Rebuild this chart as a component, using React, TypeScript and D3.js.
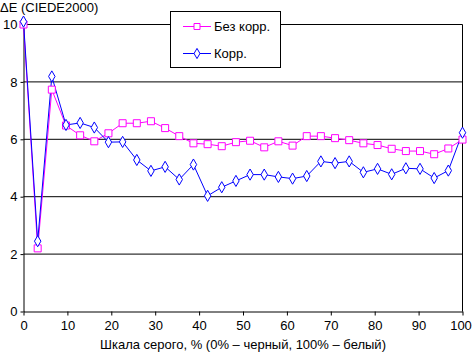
import { useEffect, useRef } from 'react';
import * as d3 from 'd3';

const xValues = [
  0, 3.23, 6.45, 9.68, 12.9, 16.13, 19.35, 22.58, 25.81, 29.03, 32.26, 35.48, 38.71, 41.94, 45.16, 48.39,
  51.61, 54.84, 58.06, 61.29, 64.52, 67.74, 70.97, 74.19, 77.42, 80.65, 83.87, 87.1, 90.32, 93.55, 96.77, 100,
];
const withoutCorr = [
  10.0, 2.2, 7.73, 6.48, 6.14, 5.93, 6.21, 6.56, 6.56, 6.63, 6.39, 6.11, 5.86, 5.83, 5.76, 5.9,
  5.95, 5.72, 5.93, 5.78, 6.11, 6.11, 6.04, 5.97, 5.86, 5.8, 5.67, 5.59, 5.59, 5.48, 5.68, 5.99,
];
const withCorr = [
  10.1, 2.45, 8.19, 6.5, 6.57, 6.41, 5.9, 5.91, 5.28, 4.9, 5.04, 4.6, 5.12, 4.03, 4.33, 4.55,
  4.77, 4.77, 4.69, 4.63, 4.72, 5.23, 5.17, 5.23, 4.85, 4.97, 4.78, 4.99, 4.97, 4.65, 4.91, 6.23,
];
const xTicks = [0, 10, 20, 30, 40, 50, 60, 70, 80, 90, 100];
const yTicks = [0, 2, 4, 6, 8, 10];
const seriesNames = ['Без корр.', 'Корр.'];

const W = 472;
const H = 353;
const FONT = '"Liberation Sans", Arial, sans-serif';
const FS = 13;

function drawChart(el: SVGSVGElement) {
  const svg = d3.select(el);
  svg.selectAll('*').remove();

  const x = d3.scaleLinear().domain([0, 100]).range([23.5, 462.5]);
  const y = d3.scaleLinear().domain([0, 10]).range([311.5, 24.5]);

  // gridlines
  svg
    .append('g')
    .selectAll('line')
    .data(yTicks.filter((t) => t > 0))
    .join('line')
    .attr('x1', x(0))
    .attr('x2', x(100))
    .attr('y1', (d: number) => y(d))
    .attr('y2', (d: number) => y(d))
    .attr('stroke', '#000')
    .attr('stroke-width', 1);

  // right border
  svg
    .append('line')
    .attr('x1', x(100))
    .attr('x2', x(100))
    .attr('y1', y(10))
    .attr('y2', y(0))
    .attr('stroke', '#000');

  const xAxis = svg
    .append('g')
    .attr('transform', `translate(0,${y(0)})`)
    .call(d3.axisBottom(x).tickValues(xTicks).tickSize(4).tickSizeOuter(0));
  xAxis.select('.domain').attr('stroke', '#000');
  xAxis.selectAll('line').attr('stroke', '#000');
  xAxis
    .selectAll('text')
    .attr('font-family', FONT)
    .attr('font-size', FS)
    .attr('fill', '#000')
    .attr('dy', '0.85em')
    .attr('dx', (d: number) => (d === 100 ? -2 : 0));

  const yAxis = svg
    .append('g')
    .attr('transform', `translate(${x(0)},0)`)
    .call(d3.axisLeft(y).tickValues(yTicks).tickSize(3).tickSizeOuter(0));
  yAxis.select('.domain').attr('stroke', '#000');
  yAxis.selectAll('line').attr('stroke', '#000');
  yAxis
    .selectAll('text')
    .attr('font-family', FONT)
    .attr('font-size', FS)
    .attr('fill', '#000')
    .attr('x', -6);

  svg
    .append('text')
    .attr('x', 0)
    .attr('y', 12)
    .attr('font-family', FONT)
    .attr('font-size', FS)
    .text('ΔE (CIEDE2000)');

  svg
    .append('text')
    .attr('x', (x(0) + x(100)) / 2)
    .attr('y', 349)
    .attr('text-anchor', 'middle')
    .attr('font-family', FONT)
    .attr('font-size', FS)
    .text('Шкала серого, % (0% – черный, 100% – белый)');

  const line = d3
    .line<number>()
    .x((_d: number, i: number) => x(xValues[i]))
    .y((d: number) => y(d));

  svg
    .append('path')
    .datum(withoutCorr)
    .attr('d', line)
    .attr('fill', 'none')
    .attr('stroke', '#ff00ff')
    .attr('stroke-width', 1);

  svg
    .append('path')
    .datum(withCorr)
    .attr('d', line)
    .attr('fill', 'none')
    .attr('stroke', '#0000ff')
    .attr('stroke-width', 1);

  const square = d3.symbol().type(d3.symbolSquare).size(49);
  const diamond = d3.symbol().type(d3.symbolDiamond).size(36);

  svg
    .append('g')
    .selectAll('path')
    .data(withoutCorr)
    .join('path')
    .attr('d', square)
    .attr('transform', (d: number, i: number) => `translate(${x(xValues[i])},${y(d)})`)
    .attr('fill', '#fff')
    .attr('stroke', '#ff00ff');

  svg
    .append('g')
    .selectAll('path')
    .data(withCorr)
    .join('path')
    .attr('d', diamond)
    .attr('transform', (d: number, i: number) => `translate(${x(xValues[i])},${y(d)})`)
    .attr('fill', '#fff')
    .attr('stroke', '#0000ff');

  // legend
  const legend = svg.append('g');
  legend
    .append('rect')
    .attr('x', 170.5)
    .attr('y', 11.5)
    .attr('width', 110)
    .attr('height', 56)
    .attr('fill', '#fff')
    .attr('stroke', '#000');

  const colors = ['#ff00ff', '#0000ff'];
  const symbols = [d3.symbol().type(d3.symbolSquare).size(36), d3.symbol().type(d3.symbolDiamond).size(30)];
  seriesNames.forEach((name, i) => {
    const cy = 26 + i * 27;
    legend
      .append('line')
      .attr('x1', 183)
      .attr('x2', 211)
      .attr('y1', cy + 0.5)
      .attr('y2', cy + 0.5)
      .attr('stroke', colors[i]);
    legend
      .append('path')
      .attr('d', symbols[i])
      .attr('transform', `translate(197,${cy + 0.5})`)
      .attr('fill', '#fff')
      .attr('stroke', colors[i]);
    legend
      .append('text')
      .attr('x', 214)
      .attr('y', cy + 5)
      .attr('font-family', FONT)
      .attr('font-size', FS)
      .text(name);
  });
}

export default function App() {
  const ref = useRef<SVGSVGElement>(null);
  useEffect(() => {
    document.body.style.margin = '0';
    if (ref.current) drawChart(ref.current);
  }, []);
  return <svg ref={ref} width={W} height={H} style={{ display: 'block', background: '#fff' }} />;
}
